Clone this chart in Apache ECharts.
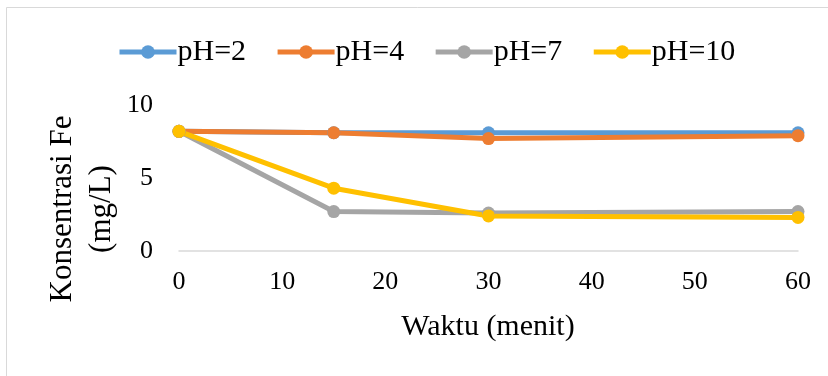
<!DOCTYPE html>
<html>
<head>
<meta charset="utf-8">
<script src="https://cdn.jsdelivr.net/npm/echarts@6/dist/echarts.min.js"></script>
<style>
  html, body { margin: 0; padding: 0; background: #fff; }
  #chart { width: 828px; height: 376px; }
</style>
</head>
<body>
<div id="chart"></div>
<script>
// Sampling times (minutes)
const waktu = [0, 15, 30, 60];

// Fe concentration (mg/L) per pH
const ph2 = [8.2, 8.1, 8.1, 8.1];
const ph4 = [8.2, 8.1, 7.7, 7.9];
const ph7 = [8.2, 2.7, 2.6, 2.7];
const ph10 = [8.2, 4.3, 2.4, 2.3];

const seriesNames = ['pH=2', 'pH=4', 'pH=7', 'pH=10'];
const seriesValues = [ph2, ph4, ph7, ph10];
const seriesColors = ['#5B9BD5', '#ED7D31', '#A5A5A5', '#FFC000'];

const xTitle = 'Waktu (menit)';
const yTitle = 'Konsentrasi Fe\n(mg/L)';

const font = 'Liberation Serif';

const chart = echarts.init(document.getElementById('chart'));

chart.setOption({
  animation: false,
  backgroundColor: '#fff',
  graphic: [
    {
      type: 'rect',
      shape: { x: 6.5, y: 7.5, width: 840, height: 400 },
      style: { fill: 'none', stroke: '#D9D9D9', lineWidth: 1 },
      silent: true
    },
    {
      type: 'text',
      x: 82, y: 209,
      rotation: Math.PI / 2,
      style: {
        text: yTitle,
        fontFamily: font, fontSize: 31, lineHeight: 39,
        fill: '#000', align: 'center', verticalAlign: 'middle'
      },
      silent: true
    },
    {
      type: 'text',
      x: 488, y: 327,
      style: {
        text: xTitle,
        fontFamily: font, fontSize: 30,
        fill: '#000', align: 'center', verticalAlign: 'middle'
      },
      silent: true
    }
  ],
  legend: {
    top: 32,
    left: 112,
    itemWidth: 57,
    itemHeight: 17,
    itemGap: 29,
    lineStyle: { width: 5 },
    textStyle: { fontFamily: font, fontSize: 30, color: '#000', padding: [0, 0, 0, -4] },
    data: seriesNames
  },
  grid: { left: 179, right: 30, top: 105, bottom: 125, containLabel: false },
  xAxis: {
    type: 'value',
    min: 0, max: 60, interval: 10,
    axisLine: { show: true, lineStyle: { color: '#D9D9D9', width: 1.5 } },
    axisTick: { show: false },
    splitLine: { show: false },
    axisLabel: { fontFamily: font, fontSize: 26, color: '#000', margin: 18 }
  },
  yAxis: {
    type: 'value',
    min: 0, max: 10, interval: 5,
    axisLine: { show: false },
    axisTick: { show: false },
    splitLine: { show: false },
    axisLabel: { fontFamily: font, fontSize: 26, color: '#000', margin: 26 }
  },
  series: seriesNames.map((name, i) => ({
    name,
    type: 'line',
    data: waktu.map((t, j) => [t, seriesValues[i][j]]),
    symbol: 'circle',
    symbolSize: 13,
    itemStyle: { color: seriesColors[i] },
    lineStyle: { color: seriesColors[i], width: 5 }
  }))
});
</script>
</body>
</html>
